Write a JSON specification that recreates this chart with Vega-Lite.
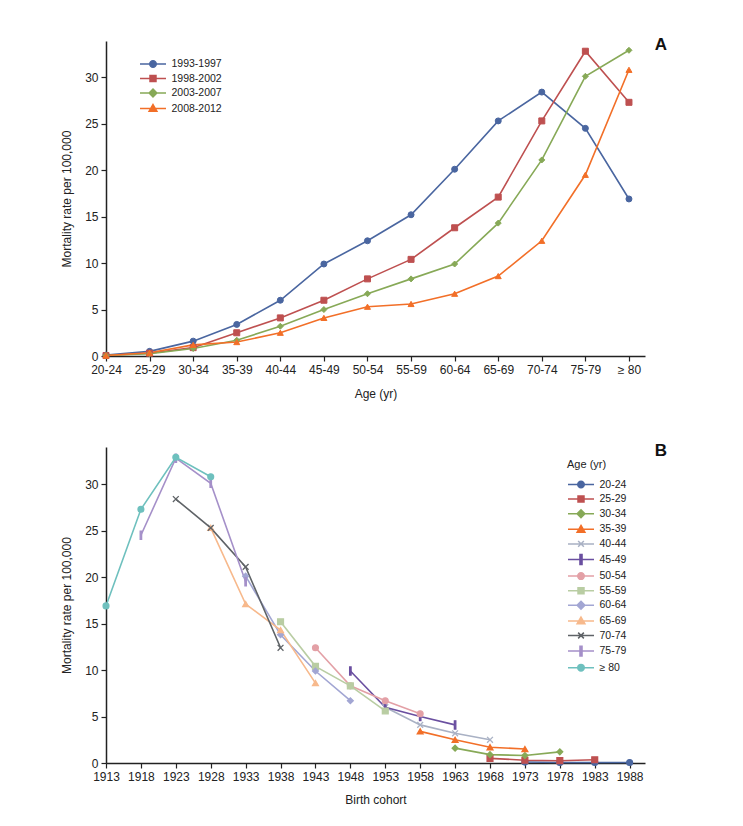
{
  "$schema": "https://vega.github.io/schema/vega-lite/v6.json",
  "padding": {"left": 60, "top": 36, "right": 10, "bottom": 10},
  "background": "white",
  "spacing": 43,
  "config": {
    "view": {"stroke": null},
    "font": "Liberation Sans",
    "axis": {"grid": false, "domainColor": "#222", "domainWidth": 1.5, "tickColor": "#222", "tickWidth": 1.2, "tickSize": 5, "labelFont": "Liberation Sans", "labelFontSize": 12, "labelColor": "#222", "titleFont": "Liberation Sans", "titleFontSize": 12, "titleFontWeight": "normal", "titleColor": "#222", "labelPadding": 3, "labelOverlap": false, "labelFlush": false},
    "legend": {"labelFont": "Liberation Sans", "labelFontSize": 10.5, "labelColor": "#222", "titleFont": "Liberation Sans", "titleFontSize": 11, "titleFontWeight": "normal", "titleColor": "#222", "symbolStrokeWidth": 1.5, "symbolSize": 169, "rowPadding": 0.5, "labelOffset": 11, "symbolOffset": 6.5},
    "title": {"font": "Liberation Sans", "fontSize": 17, "fontWeight": "bold", "color": "#111"}
  },
  "data": {"values": [
    {"age": "20-24", "period": "1993-1997", "cohort": 1973, "rate": 0.1},
    {"age": "20-24", "period": "1998-2002", "cohort": 1978, "rate": 0.05},
    {"age": "20-24", "period": "2003-2007", "cohort": 1983, "rate": 0.05},
    {"age": "20-24", "period": "2008-2012", "cohort": 1988, "rate": 0.05},
    {"age": "25-29", "period": "1993-1997", "cohort": 1968, "rate": 0.5},
    {"age": "25-29", "period": "1998-2002", "cohort": 1973, "rate": 0.3},
    {"age": "25-29", "period": "2003-2007", "cohort": 1978, "rate": 0.25},
    {"age": "25-29", "period": "2008-2012", "cohort": 1983, "rate": 0.35},
    {"age": "30-34", "period": "1993-1997", "cohort": 1963, "rate": 1.6},
    {"age": "30-34", "period": "1998-2002", "cohort": 1968, "rate": 0.9},
    {"age": "30-34", "period": "2003-2007", "cohort": 1973, "rate": 0.8},
    {"age": "30-34", "period": "2008-2012", "cohort": 1978, "rate": 1.2},
    {"age": "35-39", "period": "1993-1997", "cohort": 1958, "rate": 3.4},
    {"age": "35-39", "period": "1998-2002", "cohort": 1963, "rate": 2.5},
    {"age": "35-39", "period": "2003-2007", "cohort": 1968, "rate": 1.7},
    {"age": "35-39", "period": "2008-2012", "cohort": 1973, "rate": 1.5},
    {"age": "40-44", "period": "1993-1997", "cohort": 1953, "rate": 6.0},
    {"age": "40-44", "period": "1998-2002", "cohort": 1958, "rate": 4.1},
    {"age": "40-44", "period": "2003-2007", "cohort": 1963, "rate": 3.2},
    {"age": "40-44", "period": "2008-2012", "cohort": 1968, "rate": 2.5},
    {"age": "45-49", "period": "1993-1997", "cohort": 1948, "rate": 9.9},
    {"age": "45-49", "period": "1998-2002", "cohort": 1953, "rate": 6.0},
    {"age": "45-49", "period": "2003-2007", "cohort": 1958, "rate": 5.0},
    {"age": "45-49", "period": "2008-2012", "cohort": 1963, "rate": 4.1},
    {"age": "50-54", "period": "1993-1997", "cohort": 1943, "rate": 12.4},
    {"age": "50-54", "period": "1998-2002", "cohort": 1948, "rate": 8.3},
    {"age": "50-54", "period": "2003-2007", "cohort": 1953, "rate": 6.7},
    {"age": "50-54", "period": "2008-2012", "cohort": 1958, "rate": 5.3},
    {"age": "55-59", "period": "1993-1997", "cohort": 1938, "rate": 15.2},
    {"age": "55-59", "period": "1998-2002", "cohort": 1943, "rate": 10.4},
    {"age": "55-59", "period": "2003-2007", "cohort": 1948, "rate": 8.3},
    {"age": "55-59", "period": "2008-2012", "cohort": 1953, "rate": 5.6},
    {"age": "60-64", "period": "1993-1997", "cohort": 1933, "rate": 20.1},
    {"age": "60-64", "period": "1998-2002", "cohort": 1938, "rate": 13.8},
    {"age": "60-64", "period": "2003-2007", "cohort": 1943, "rate": 9.9},
    {"age": "60-64", "period": "2008-2012", "cohort": 1948, "rate": 6.7},
    {"age": "65-69", "period": "1993-1997", "cohort": 1928, "rate": 25.3},
    {"age": "65-69", "period": "1998-2002", "cohort": 1933, "rate": 17.1},
    {"age": "65-69", "period": "2003-2007", "cohort": 1938, "rate": 14.3},
    {"age": "65-69", "period": "2008-2012", "cohort": 1943, "rate": 8.6},
    {"age": "70-74", "period": "1993-1997", "cohort": 1923, "rate": 28.4},
    {"age": "70-74", "period": "1998-2002", "cohort": 1928, "rate": 25.3},
    {"age": "70-74", "period": "2003-2007", "cohort": 1933, "rate": 21.1},
    {"age": "70-74", "period": "2008-2012", "cohort": 1938, "rate": 12.4},
    {"age": "75-79", "period": "1993-1997", "cohort": 1918, "rate": 24.5},
    {"age": "75-79", "period": "1998-2002", "cohort": 1923, "rate": 32.8},
    {"age": "75-79", "period": "2003-2007", "cohort": 1928, "rate": 30.1},
    {"age": "75-79", "period": "2008-2012", "cohort": 1933, "rate": 19.5},
    {"age": "≥ 80", "period": "1993-1997", "cohort": 1913, "rate": 16.9},
    {"age": "≥ 80", "period": "1998-2002", "cohort": 1918, "rate": 27.3},
    {"age": "≥ 80", "period": "2003-2007", "cohort": 1923, "rate": 32.9},
    {"age": "≥ 80", "period": "2008-2012", "cohort": 1928, "rate": 30.8}
  ]},
  "vconcat": [
    {
      "width": 539,
      "height": 315,
      "title": {"text": "A", "anchor": "end", "offset": 0, "dx": 22, "dy": 13},
      "resolve": {"scale": {"shape": "independent", "fill": "independent", "stroke": "independent", "color": "independent"}, "legend": {"shape": "independent", "fill": "independent", "stroke": "independent", "color": "independent"}},
      "encoding": {
        "x": {"field": "age", "type": "ordinal", "sort": ["20-24","25-29","30-34","35-39","40-44","45-49","50-54","55-59","60-64","65-69","70-74","75-79","≥ 80"], "scale": {"type": "point", "padding": 0.184, "align": 0}, "axis": {"title": "Age (yr)", "labelAngle": 0, "titlePadding": 13}},
        "y": {"field": "rate", "type": "quantitative", "scale": {"domain": [0, 33.9], "nice": false}, "axis": {"title": "Mortality rate per 100,000", "values": [0,5,10,15,20,25,30], "titlePadding": 11}}
      },
      "layer": [
        {
          "mark": {"type": "line", "strokeWidth": 1.6},
          "encoding": {
            "color": {"field": "period", "type": "nominal", "scale": {"domain": ["1993-1997","1998-2002","2003-2007","2008-2012"], "range": ["#4A66A0","#BE5050","#87A957","#F26F28"]}, "legend": null}
          }
        },
        {
          "mark": {"type": "point", "filled": true, "size": 36, "strokeWidth": 1, "opacity": 1},
          "encoding": {
            "fill": {"field": "period", "type": "nominal", "scale": {"domain": ["1993-1997","1998-2002","2003-2007","2008-2012"], "range": ["#4A66A0","#BE5050","#87A957","#F26F28"]}, "legend": null},
            "stroke": {"field": "period", "type": "nominal", "scale": {"domain": ["1993-1997","1998-2002","2003-2007","2008-2012"], "range": ["#4A66A0","#BE5050","#87A957","#F26F28"]}, "legend": null},
            "shape": {"field": "period", "type": "nominal", "scale": {"domain": ["1993-1997","1998-2002","2003-2007","2008-2012"], "range": ["circle","square","diamond","triangle-up"]}, "legend": null}
          }
        },
        {
          "transform": [{"filter": "false"}],
          "mark": {"type": "point", "filled": true, "opacity": 1},
          "encoding": {
            "fill": {"field": "period", "type": "nominal", "scale": {"domain": ["1993-1997","1998-2002","2003-2007","2008-2012"], "range": ["#4A66A0","#BE5050","#87A957","#F26F28"]}, "legend": {"title": null, "orient": "none", "legendX": 33, "legendY": 15.5}},
            "stroke": {"field": "period", "type": "nominal", "scale": {"domain": ["1993-1997","1998-2002","2003-2007","2008-2012"], "range": ["#4A66A0","#BE5050","#87A957","#F26F28"]}, "legend": {"title": null, "orient": "none", "legendX": 33, "legendY": 15.5}},
            "shape": {"field": "period", "type": "nominal", "scale": {"domain": ["1993-1997","1998-2002","2003-2007","2008-2012"], "range": [
              "M-2,0H2M-0.5,0A0.5,0.5,0,1,0,0.5,0A0.5,0.5,0,1,0,-0.5,0Z",
              "M-2,0H2M-0.46,-0.46H0.46V0.46H-0.46Z",
              "M-2,0H2M0,-0.6L0.6,0L0,0.6L-0.6,0Z",
              "M-2,0H2M0,-0.6L0.6,0.44H-0.6Z"
            ]}, "legend": {"title": null, "orient": "none", "legendX": 33, "legendY": 15.5}}
          }
        }
      ]
    },
    {
      "width": 539,
      "height": 316,
      "title": {"text": "B", "anchor": "end", "offset": 0, "dx": 22, "dy": 13},
      "resolve": {"scale": {"shape": "independent", "fill": "independent", "stroke": "independent", "color": "independent"}, "legend": {"shape": "independent", "fill": "independent", "stroke": "independent", "color": "independent"}},
      "encoding": {
        "x": {"field": "cohort", "type": "quantitative", "scale": {"domain": [1913, 1990.2], "nice": false, "zero": false}, "axis": {"title": "Birth cohort", "values": [1913,1918,1923,1928,1933,1938,1943,1948,1953,1958,1963,1968,1973,1978,1983,1988], "format": "d", "titlePadding": 12}},
        "y": {"field": "rate", "type": "quantitative", "scale": {"domain": [0, 34], "nice": false}, "axis": {"title": "Mortality rate per 100,000", "values": [0,5,10,15,20,25,30], "titlePadding": 11}}
      },
      "layer": [
        {
          "mark": {"type": "line", "strokeWidth": 1.6},
          "encoding": {
            "color": {"field": "age", "type": "nominal", "scale": {"domain": ["20-24","25-29","30-34","35-39","40-44","45-49","50-54","55-59","60-64","65-69","70-74","75-79","≥ 80"], "range": ["#4A66A0","#BE5050","#87A957","#F26F28","#A9B1C4","#6A4FA0","#E3A0A6","#B9CDA3","#A2A6D3","#F7B98C","#5F6367","#A590C9","#6EC0BE"]}, "legend": null}
          }
        },
        {
          "mark": {"type": "point", "filled": true, "size": 34, "strokeWidth": 1.3, "opacity": 1},
          "encoding": {
            "fill": {"field": "age", "type": "nominal", "scale": {"domain": ["20-24","25-29","30-34","35-39","40-44","45-49","50-54","55-59","60-64","65-69","70-74","75-79","≥ 80"], "range": ["#4A66A0","#BE5050","#87A957","#F26F28","#A9B1C4","#6A4FA0","#E3A0A6","#B9CDA3","#A2A6D3","#F7B98C","#5F6367","#A590C9","#6EC0BE"]}, "legend": null},
            "stroke": {"field": "age", "type": "nominal", "scale": {"domain": ["20-24","25-29","30-34","35-39","40-44","45-49","50-54","55-59","60-64","65-69","70-74","75-79","≥ 80"], "range": ["#4A66A0","#BE5050","#87A957","#F26F28","#A9B1C4","#6A4FA0","#E3A0A6","#B9CDA3","#A2A6D3","#F7B98C","#5F6367","#A590C9","#6EC0BE"]}, "legend": null},
            "shape": {"field": "age", "type": "nominal", "scale": {"domain": ["20-24","25-29","30-34","35-39","40-44","45-49","50-54","55-59","60-64","65-69","70-74","75-79","≥ 80"], "range": ["circle","square","diamond","triangle-up","M-1,-1L1,1M-1,1L1,-1","M-0.25,-1.4H0.25V1.4H-0.25Z","circle","square","diamond","triangle-up","M-1,-1L1,1M-1,1L1,-1","M-0.25,-1.4H0.25V1.4H-0.25Z","circle"]}, "legend": null}
          }
        },
        {
          "transform": [{"filter": "false"}],
          "mark": {"type": "point", "filled": true, "opacity": 1},
          "encoding": {
            "fill": {"field": "age", "type": "nominal", "scale": {"domain": ["20-24","25-29","30-34","35-39","40-44","45-49","50-54","55-59","60-64","65-69","70-74","75-79","≥ 80"], "range": ["#4A66A0","#BE5050","#87A957","#F26F28","#A9B1C4","#6A4FA0","#E3A0A6","#B9CDA3","#A2A6D3","#F7B98C","#5F6367","#A590C9","#6EC0BE"]}, "legend": {"title": "Age (yr)", "orient": "none", "legendX": 461, "legendY": 12, "titlePadding": 7, "rowPadding": 0.6}},
            "stroke": {"field": "age", "type": "nominal", "scale": {"domain": ["20-24","25-29","30-34","35-39","40-44","45-49","50-54","55-59","60-64","65-69","70-74","75-79","≥ 80"], "range": ["#4A66A0","#BE5050","#87A957","#F26F28","#A9B1C4","#6A4FA0","#E3A0A6","#B9CDA3","#A2A6D3","#F7B98C","#5F6367","#A590C9","#6EC0BE"]}, "legend": {"title": "Age (yr)", "orient": "none", "legendX": 461, "legendY": 12, "titlePadding": 7, "rowPadding": 0.6}},
            "shape": {"field": "age", "type": "nominal", "scale": {"domain": ["20-24","25-29","30-34","35-39","40-44","45-49","50-54","55-59","60-64","65-69","70-74","75-79","≥ 80"], "range": [
              "M-2,0H2M-0.5,0A0.5,0.5,0,1,0,0.5,0A0.5,0.5,0,1,0,-0.5,0Z",
              "M-2,0H2M-0.46,-0.46H0.46V0.46H-0.46Z",
              "M-2,0H2M0,-0.6L0.6,0L0,0.6L-0.6,0Z",
              "M-2,0H2M0,-0.6L0.6,0.44H-0.6Z",
              "M-2,0H2M-0.44,-0.44L0.44,0.44M-0.44,0.44L0.44,-0.44",
              "M-2,0H2M-0.16,-0.76H0.16V0.76H-0.16Z",
              "M-2,0H2M-0.5,0A0.5,0.5,0,1,0,0.5,0A0.5,0.5,0,1,0,-0.5,0Z",
              "M-2,0H2M-0.46,-0.46H0.46V0.46H-0.46Z",
              "M-2,0H2M0,-0.6L0.6,0L0,0.6L-0.6,0Z",
              "M-2,0H2M0,-0.6L0.6,0.44H-0.6Z",
              "M-2,0H2M-0.44,-0.44L0.44,0.44M-0.44,0.44L0.44,-0.44",
              "M-2,0H2M-0.16,-0.76H0.16V0.76H-0.16Z",
              "M-2,0H2M-0.5,0A0.5,0.5,0,1,0,0.5,0A0.5,0.5,0,1,0,-0.5,0Z"
            ]}, "legend": {"title": "Age (yr)", "orient": "none", "legendX": 461, "legendY": 12, "titlePadding": 7, "rowPadding": 0.6}}
          }
        }
      ]
    }
  ]
}
